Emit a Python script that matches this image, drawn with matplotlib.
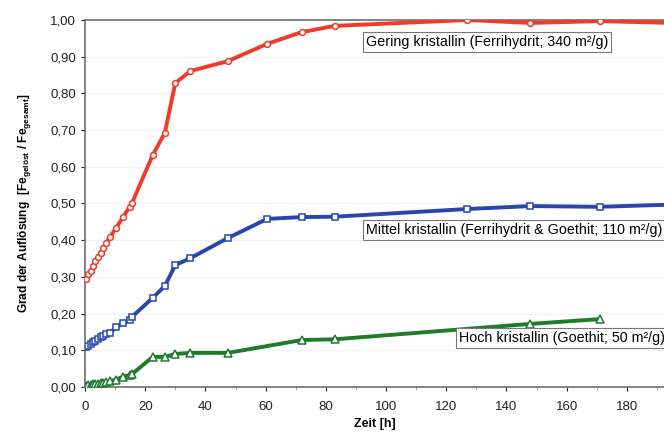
import matplotlib.pyplot as plt
from matplotlib.ticker import FuncFormatter, MultipleLocator

plt.rcParams['font.family'] = ['Liberation Sans', 'DejaVu Sans']

# Zeitpunkte [h]
zeit = [0.3, 1, 2, 2.7, 3.3, 4.2, 5.2, 6, 7, 8.3, 10.3, 12.6, 14.8, 15.6,
        22.5, 26.5, 30, 35, 47.5, 60.5, 72, 83, 127, 148, 171, 195]
gering = [0.294, 0.308, 0.316, 0.330, 0.343, 0.354, 0.365, 0.379, 0.392, 0.409,
          0.433, 0.463, 0.490, 0.501, 0.632, 0.692, 0.828, 0.861, 0.888, 0.935,
          0.967, 0.984, 1.000, 0.992, 0.997, 0.992]
mittel = [0.109, 0.112, 0.117, 0.123, 0.125, 0.131, 0.136, 0.139, 0.144, 0.147,
          0.163, 0.174, 0.183, 0.191, 0.243, 0.275, 0.332, 0.351, 0.406, 0.458,
          0.463, 0.464, 0.485, 0.493, 0.491, 0.497]

zeit_hoch = [0.3, 1, 2, 2.7, 3.3, 4.2, 5.2, 6, 7, 8.3, 10.3, 12.6, 14.8, 15.6,
             22.5, 26.5, 30, 35, 47.5, 72, 83, 148, 171]
hoch = [0.004, 0.005, 0.006, 0.007, 0.008, 0.009, 0.010, 0.011, 0.013, 0.016,
        0.020, 0.028, 0.033, 0.035, 0.082, 0.082, 0.090, 0.093, 0.093, 0.128,
        0.130, 0.172, 0.185]

labels = ['Gering kristallin (Ferrihydrit; 340 m²/g)',
          'Mittel kristallin (Ferrihydrit & Goethit; 110 m²/g)',
          'Hoch kristallin (Goethit; 50 m²/g)']

fig = plt.figure(figsize=(6.64, 4.34), dpi=100)
ax = fig.add_axes([85 / 664, 47 / 434, 579 / 664, 367 / 434])

ax.plot(zeit, gering, color='#ee3b2a', lw=2.8, marker='o', ms=4.2,
        mfc='white', mec='#ee3b2a', mew=1.1, zorder=3)
ax.plot(zeit, mittel, color='#2846ae', lw=2.8, marker='s', ms=5,
        mfc='white', mec='#2846ae', mew=1.1, zorder=3)
ax.plot(zeit_hoch, hoch, color='#1f7a2c', lw=2.8, marker='^', ms=5.5,
        mfc='white', mec='#1f7a2c', mew=1.1, zorder=3)

ax.set_xlim(0, 579 / 3.01)
ax.set_ylim(0, 1.0)
ax.xaxis.set_major_locator(MultipleLocator(20))
ax.xaxis.set_minor_locator(MultipleLocator(10))
ax.yaxis.set_major_locator(MultipleLocator(0.1))
ax.yaxis.set_major_formatter(FuncFormatter(lambda v, p: f'{v:.2f}'.replace('.', ',')))
ax.tick_params(axis='both', labelsize=9.5, colors='#222222', length=3,
               direction='out')
ax.tick_params(axis='x', which='minor', length=2, color='#999999')
ax.tick_params(axis='x', pad=7)
ax.grid(axis='y', color='#f2f2f2', lw=0.8, zorder=0)

for s in ['left', 'bottom', 'top']:
    ax.spines[s].set_color('#707070')
    ax.spines[s].set_linewidth(1.2)
ax.spines['right'].set_visible(False)

ax.set_xlabel('Zeit [h]', fontsize=9, fontweight='bold', labelpad=4)
ax.set_ylabel('Grad der Auflösung  [Fe$_{\\mathregular{gelöst}}$ / Fe$_{\\mathregular{gesamt}}$]',
              fontsize=8.6, fontweight='bold', labelpad=12)

box = dict(boxstyle='square,pad=0.2', fc='white', ec='#777777', lw=0.8)
ax.text(93.4, 0.94, labels[0], fontsize=10.3, va='center', ha='left', bbox=box, zorder=4)
ax.text(93.4, 0.428, labels[1], fontsize=10.3, va='center', ha='left', bbox=box, zorder=4)
ax.text(124.3, 0.134, labels[2], fontsize=10.3, va='center', ha='left', bbox=box, zorder=4)

fig.savefig('out.png', dpi=100)
